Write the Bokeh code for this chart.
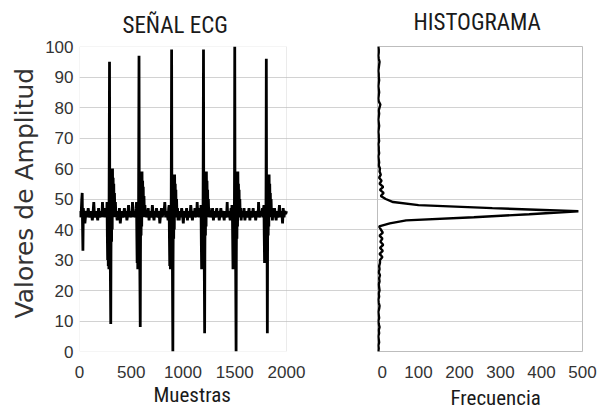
from bokeh.plotting import figure
from bokeh.models import Range1d, FixedTicker, Title, BoxAnnotation, ColumnDataSource
from bokeh.layouts import row
from bokeh.embed import file_html
from bokeh.resources import INLINE

# ---------------- data ----------------
# ECG signal (sample index, amplitude)
muestras = [
    0, 8, 16, 22, 26, 30, 33, 37, 44, 52, 60, 68, 76, 84, 92, 100, 108, 116, 124, 132,
    138, 144, 152, 160, 168, 176, 184, 192, 200, 208, 216, 222, 228, 236, 244, 252,
    262, 266, 269, 272, 275, 278, 281, 284, 287, 290, 292, 294, 296, 298, 302, 304, 307, 310, 313, 316,
    319, 322, 325, 328, 331, 334, 338, 342, 347, 352,
    358, 364, 370, 378, 386, 394, 402, 410, 418, 426, 434, 442, 450, 458, 466, 474, 482, 490, 498, 506,
    512, 518, 526, 534, 542,
    547, 551, 554, 557, 560, 563, 566, 569, 572, 575, 577, 579, 581, 583, 587, 589, 592, 595, 598, 601,
    604, 607, 610, 613, 616, 619, 623, 627, 632, 637,
    640, 648, 656, 664, 672, 680, 688, 696, 704, 712, 720, 728, 736, 744, 752, 760, 768, 776, 784, 792,
    800, 808, 816, 824, 832, 840, 848, 856,
    862, 866, 869, 872, 875, 878, 881, 884, 887, 890, 892, 894, 896, 898, 902, 904, 907, 910, 913, 916,
    919, 922, 925, 928, 931, 934, 938, 942, 947, 952,
    955, 963, 971, 979, 987, 995, 1003, 1011, 1019, 1027, 1035, 1043, 1051, 1059, 1067, 1075, 1083, 1091, 1099, 1107,
    1115, 1123, 1131, 1137, 1143, 1151, 1159, 1167,
    1170, 1174, 1177, 1180, 1183, 1186, 1189, 1192, 1195, 1198, 1200, 1202, 1204, 1206, 1209, 1211, 1214, 1217, 1220, 1223,
    1226, 1229, 1232, 1235, 1238, 1241, 1245, 1249, 1254, 1259,
    1262, 1270, 1278, 1286, 1294, 1302, 1310, 1318, 1326, 1334, 1342, 1350, 1358, 1366, 1374, 1382, 1390, 1398, 1406, 1414,
    1422, 1427, 1432, 1440, 1448, 1456, 1464, 1470,
    1473, 1477, 1480, 1483, 1486, 1489, 1492, 1495, 1498, 1500, 1502, 1504, 1506, 1509, 1513, 1515, 1518, 1521, 1524, 1527,
    1530, 1533, 1536, 1539, 1542, 1545, 1549, 1553, 1558, 1562,
    1566, 1574, 1582, 1590, 1598, 1606, 1614, 1622, 1630, 1638, 1646, 1654, 1662, 1670, 1678, 1686, 1694, 1702, 1710, 1718,
    1726, 1730, 1736, 1744, 1752, 1760, 1768, 1775,
    1779, 1782, 1785, 1788, 1791, 1794, 1797, 1800, 1803, 1805, 1807, 1809, 1811, 1813, 1815, 1817, 1820, 1823, 1826, 1829,
    1832, 1835, 1838, 1841, 1844, 1847, 1851, 1855, 1860, 1864,
    1868, 1876, 1884, 1892, 1900, 1908, 1916, 1924, 1932, 1940, 1948, 1956, 1962, 1968, 1976, 1984, 1992, 2000,
]
amplitud = [
    44, 46, 45, 50, 52, 40, 33, 47, 44, 42, 45, 46, 44, 47, 45, 44, 46, 45, 43, 46,
    49, 45, 44, 46, 45, 43, 47, 44, 45, 46, 44, 49, 45, 46, 44, 47,
    44, 49, 38, 30, 47, 28, 45, 27, 60, 95, 55, 30, 40, 27, 9, 32, 52, 36, 59, 40,
    60, 44, 57, 45, 55, 44, 52, 44, 49, 44,
    45, 43, 46, 44, 47, 42, 45, 46, 44, 45, 47, 44, 46, 43, 45, 48, 44, 46, 45, 44,
    49, 45, 46, 44, 45,
    47, 49, 38, 29, 47, 27, 46, 28, 62, 97, 58, 31, 41, 27, 8, 32, 52, 38, 59, 41,
    59, 45, 56, 46, 54, 44, 51, 45, 48, 44,
    46, 44, 45, 47, 43, 46, 45, 44, 48, 45, 43, 46, 44, 47, 45, 44, 46, 42, 45, 47,
    44, 46, 45, 49, 44, 46, 45, 43,
    47, 48, 37, 28, 46, 27, 45, 27, 58, 99, 56, 30, 39, 27, 0, 30, 50, 37, 58, 40,
    58, 44, 55, 46, 53, 44, 50, 44, 47, 43,
    45, 43, 46, 44, 47, 45, 42, 46, 44, 45, 47, 43, 46, 45, 44, 48, 45, 43, 46, 44,
    47, 45, 44, 49, 45, 46, 44, 47,
    44, 48, 36, 27, 46, 28, 46, 27, 60, 99, 57, 29, 40, 26, 6, 31, 51, 38, 59, 41,
    59, 45, 56, 46, 53, 44, 50, 45, 47, 44,
    46, 44, 45, 47, 43, 46, 44, 45, 47, 44, 46, 43, 45, 47, 44, 46, 45, 43, 46, 44,
    45, 49, 44, 46, 45, 43, 47, 44,
    48, 47, 37, 27, 45, 28, 46, 27, 61, 100, 58, 30, 40, 27, 0, 30, 50, 37, 59, 41,
    59, 45, 55, 46, 53, 44, 50, 44, 47, 43,
    45, 46, 44, 47, 43, 45, 46, 44, 45, 47, 43, 46, 44, 45, 47, 44, 46, 43, 45, 46,
    44, 49, 45, 44, 46, 45, 47, 44,
    47, 48, 38, 29, 46, 30, 46, 29, 60, 96, 56, 31, 40, 29, 6, 32, 50, 38, 58, 41,
    58, 45, 55, 46, 52, 44, 50, 45, 47, 43,
    46, 44, 47, 45, 43, 46, 44, 45, 48, 44, 46, 45, 42, 47, 44, 46, 45, 46,
]

# Histogram: amplitude level 0..100 and its frequency
niveles = list(range(0, 101))
frecuencia = [
    2, 3, 2, 4, 3, 2, 4, 3, 5, 3, 2, 4, 3, 2, 4, 5, 3, 2, 4, 3, 5, 4, 3, 5, 4, 6, 3, 5, 4, 6,
    6, 12, 5, 13, 6, 14, 7, 12, 5, 13, 8, 4,
    30, 70, 235, 370, 490, 280, 100, 38,
    20, 8, 15, 6, 14, 5, 10, 4, 8, 5, 6,
    3, 4, 3, 2, 4, 3, 3, 2, 4, 3, 3, 2, 3, 4, 3, 2, 3, 4, 3, 5,
    7, 3, 2, 3, 4, 3, 2, 3, 4, 3, 3, 2, 3, 4, 5, 3, 2, 3, 3, 2,
]

ticks_amplitud = [0, 10, 20, 30, 40, 50, 60, 70, 80, 90, 100]
grid_amplitud = [10, 20, 30, 40, 50, 60, 70, 80, 90]
ticks_muestras = [0, 500, 1000, 1500, 2000]
ticks_frecuencia = [0, 100, 200, 300, 400, 500]

# ---------------- layout constants ----------------
H = 417
LEFT_W = 377
RIGHT_W = 226
BORDER_L = 79
BORDER_T = 46
BORDER_B = 66
ECG_PX = 207                       # pixels used by samples 0..2000
LEFT_FRAME = LEFT_W - BORDER_L     # includes the gap between both panels
x_end_left = 2000 * LEFT_FRAME / ECG_PX

GRID = "#d2d2d2"
FRAME = "#bdbdbd"
TICK_FONT = "Liberation Sans"
NARROW = "'Roboto Condensed', 'DejaVu Sans Condensed', 'Liberation Sans'"


def title(txt, offset, size, valign, standoff, font=NARROW, color="#1a1a1a"):
    return Title(text=txt, align="left", offset=offset, text_font=font, text_font_size=size,
                 text_font_style="normal", text_color=color, vertical_align=valign,
                 standoff=standoff)


def style_axis(ax, standoff):
    ax.axis_line_color = None
    ax.major_tick_line_color = None
    ax.minor_tick_line_color = None
    ax.major_tick_out = 0
    ax.major_label_text_font = TICK_FONT
    ax.major_label_text_font_size = "17px"
    ax.major_label_text_color = "#333333"
    ax.major_label_standoff = standoff


# ---------------- ECG panel ----------------
p1 = figure(width=LEFT_W, height=H, x_range=Range1d(0, x_end_left), y_range=Range1d(0, 100),
            output_backend="svg", toolbar_location=None, title=None,
            min_border_left=BORDER_L, min_border_right=0, min_border_top=BORDER_T,
            min_border_bottom=BORDER_B)
p1.outline_line_color = None
p1.border_fill_color = "white"

p1.add_layout(BoxAnnotation(left=0, right=2000, bottom=0, top=100, fill_alpha=0,
                            line_color=FRAME, line_width=1, level="underlay"))

src1 = ColumnDataSource(dict(x=muestras, y=amplitud))
p1.line("x", "y", source=src1, line_color="black", line_width=2.8)

p1.xgrid.visible = False
p1.ygrid.ticker = FixedTicker(ticks=grid_amplitud)
p1.ygrid.grid_line_color = GRID

p1.xaxis[0].ticker = FixedTicker(ticks=ticks_muestras)
p1.yaxis[0].ticker = FixedTicker(ticks=ticks_amplitud)
style_axis(p1.xaxis[0], 14)
style_axis(p1.yaxis[0], 6)

p1.add_layout(title("SEÑAL ECG", 43, "23px", "bottom", 16), "above")
p1.add_layout(title("Muestras", 74, "21px", "bottom", 1), "below")
p1.add_layout(title("Valores de Amplitud", 33, "25px", "bottom", 8, font="DejaVu Sans",
                    color="#333333"), "left")

# ---------------- Histogram panel ----------------
p2 = figure(width=RIGHT_W, height=H, x_range=Range1d(0, 500), y_range=Range1d(0, 100),
            output_backend="svg", toolbar_location=None, title=None, y_axis_location=None,
            min_border_left=0, min_border_right=RIGHT_W - 205, min_border_top=BORDER_T,
            min_border_bottom=BORDER_B)
p2.outline_line_color = FRAME
p2.border_fill_color = "white"

src2 = ColumnDataSource(dict(x=frecuencia, y=niveles))
p2.line("x", "y", source=src2, line_color="black", line_width=2.4)

p2.xgrid.visible = False
p2.ygrid.ticker = FixedTicker(ticks=grid_amplitud)
p2.ygrid.grid_line_color = GRID

p2.xaxis[0].ticker = FixedTicker(ticks=ticks_frecuencia)
style_axis(p2.xaxis[0], 14)

p2.add_layout(title("HISTOGRAMA", 36, "23px", "top", 17), "above")
p2.add_layout(title("Frecuencia", 73, "21px", "bottom", 6), "below")

layout = row(p1, p2)
open("out.html", "w").write(file_html(layout, INLINE))
